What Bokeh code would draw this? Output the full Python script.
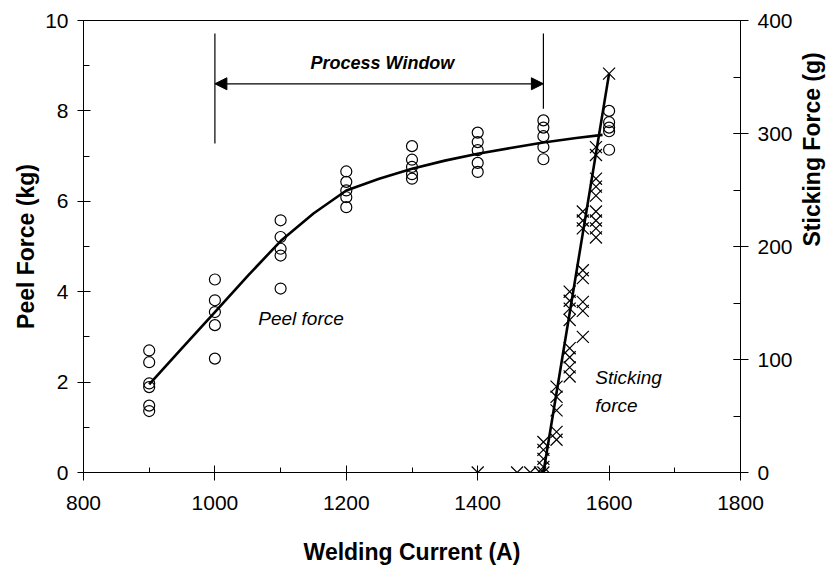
import math
from bokeh.plotting import figure
from bokeh.models import Range1d, LinearAxis, SingleIntervalTicker, Label, Arrow, NormalHead
from bokeh.embed import file_html
from bokeh.resources import INLINE
from bokeh.core.properties import value

# ---- data ----
peel_x = [900]*6 + [1000]*5 + [1100]*5 + [1200]*5 + [1300]*5 + [1400]*5 + [1500]*5 + [1600]*5
peel_y = [2.70, 2.44, 1.97, 1.89, 1.48, 1.36,
          4.27, 3.81, 3.55, 3.26, 2.52,
          5.58, 5.21, 4.95, 4.80, 4.07,
          6.66, 6.43, 6.24, 6.09, 5.87,
          7.22, 6.92, 6.76, 6.60, 6.50,
          7.52, 7.31, 7.13, 6.85, 6.65,
          7.79, 7.63, 7.44, 7.20, 6.93,
          8.00, 7.75, 7.63, 7.55, 7.14]

fit_x = [900, 950, 1000, 1050, 1100, 1150, 1200, 1250, 1300, 1350, 1400, 1450, 1500, 1550, 1590]
fit_y = [1.95, 2.75, 3.55, 4.35, 5.12, 5.73, 6.24, 6.50, 6.72, 6.90, 7.05, 7.18, 7.30, 7.40, 7.47]

stick_x = [1400, 1460, 1480, 1495,
           1500, 1500, 1500, 1500, 1500,
           1520, 1520, 1520, 1520, 1520,
           1540, 1540, 1540, 1540, 1540, 1540, 1540, 1540,
           1560, 1560, 1560, 1560, 1560, 1560, 1560, 1560,
           1580, 1580, 1580, 1580, 1580, 1580, 1580, 1580, 1580,
           1600]
stick_y = [0, 0, 0, 0,
           0, 5, 12, 20, 27,
           29, 36, 55, 67, 76,
           85, 93, 102, 110, 135, 145, 152, 160,
           120, 143, 151, 172, 179, 216, 223, 231,
           208, 216, 223, 231, 245, 253, 260, 281, 288,
           353]

stick_fit_x = [1500, 1600]
stick_fit_y = [0, 353]

window_x = [1000, 1500]
window_top = [9.71, 9.71]
window_bottom = [7.28, 8.05]
window_arrow_y = 8.6

FONT = "Liberation Sans"

p = figure(width=840, height=570, x_range=Range1d(800, 1800), y_range=Range1d(0, 10),
           output_backend="svg", toolbar_location=None,
           min_border_left=83, min_border_right=100, min_border_top=20, min_border_bottom=98)
p.extra_y_ranges = {"stick": Range1d(0, 400)}
p.xgrid.visible = False
p.ygrid.visible = False
p.outline_line_color = "black"
p.outline_line_width = 1
p.background_fill_color = "white"
p.border_fill_color = "white"

def style(ax, tin, tout, mtin, standoff):
    ax.axis_line_color = "black"
    ax.axis_line_width = 1
    ax.major_tick_in = tin
    ax.major_tick_out = tout
    ax.minor_tick_in = mtin
    ax.minor_tick_out = 0
    ax.major_tick_line_color = "black"
    ax.minor_tick_line_color = "black"
    ax.major_label_text_font = FONT
    ax.major_label_text_font_size = "21px"
    ax.major_label_text_color = "black"
    ax.major_label_standoff = standoff
    ax.axis_label_text_font = FONT
    ax.axis_label_text_font_size = "23px"
    ax.axis_label_text_font_style = "bold"
    ax.axis_label_text_color = "black"

p.xaxis.ticker = SingleIntervalTicker(interval=200, num_minor_ticks=2)
p.yaxis.ticker = SingleIntervalTicker(interval=2, num_minor_ticks=2)
p.xaxis.axis_label = "Welding Current (A)"
p.yaxis.axis_label = "Peel Force (kg)"
style(p.xaxis[0], 7, 8, 5, 15)
style(p.yaxis[0], 7, 6, 6, 9)
p.xaxis.axis_label_standoff = 26
p.yaxis.axis_label_standoff = 3

rax = LinearAxis(y_range_name="stick", ticker=SingleIntervalTicker(interval=100, num_minor_ticks=2),
                 axis_label="Sticking Force (g)")
style(rax, 7, 8, 7, 9)
rax.axis_label_standoff = 16
if "axis_label_orientation" in rax.properties():
    rax.axis_label_orientation = math.pi / 2
p.add_layout(rax, "right")

# data marks
p.line(fit_x, fit_y, line_color="black", line_width=2.6)
p.scatter(peel_x, peel_y, marker="circle", size=11, fill_color=None, line_color="black", line_width=1.2)
p.line(stick_fit_x, stick_fit_y, y_range_name="stick", line_color="black", line_width=2.6)
p.scatter(stick_x, stick_y, y_range_name="stick", marker="x", size=17, line_color="black", line_width=1.2)

# process window
p.segment(x0=window_x, y0=window_bottom, x1=window_x, y1=window_top, line_color="black", line_width=1.2)
p.add_layout(Arrow(x_start=1500, y_start=window_arrow_y, x_end=1000, y_end=window_arrow_y,
                   line_color="black", line_width=1.2,
                   start=NormalHead(size=12, fill_color="black", line_color="black"),
                   end=NormalHead(size=12, fill_color="black", line_color="black")))
p.add_layout(Label(x=1255, y=9.07, text="Process Window", text_align="center", text_baseline="middle",
                   text_font=FONT, text_font_size="18px", text_font_style="bold italic", text_color="black"))
p.add_layout(Label(x=1066, y=3.4, text="Peel force", text_align="left", text_baseline="middle",
                   text_font=FONT, text_font_size="19px", text_font_style="italic", text_color="black"))
p.add_layout(Label(x=1579, y=2.1, text="Sticking", text_align="left", text_baseline="middle",
                   text_font=FONT, text_font_size="19px", text_font_style="italic", text_color="black"))
p.add_layout(Label(x=1579, y=1.48, text="force", text_align="left", text_baseline="middle",
                   text_font=FONT, text_font_size="19px", text_font_style="italic", text_color="black"))

open("out.html", "w").write(file_html(p, INLINE))
